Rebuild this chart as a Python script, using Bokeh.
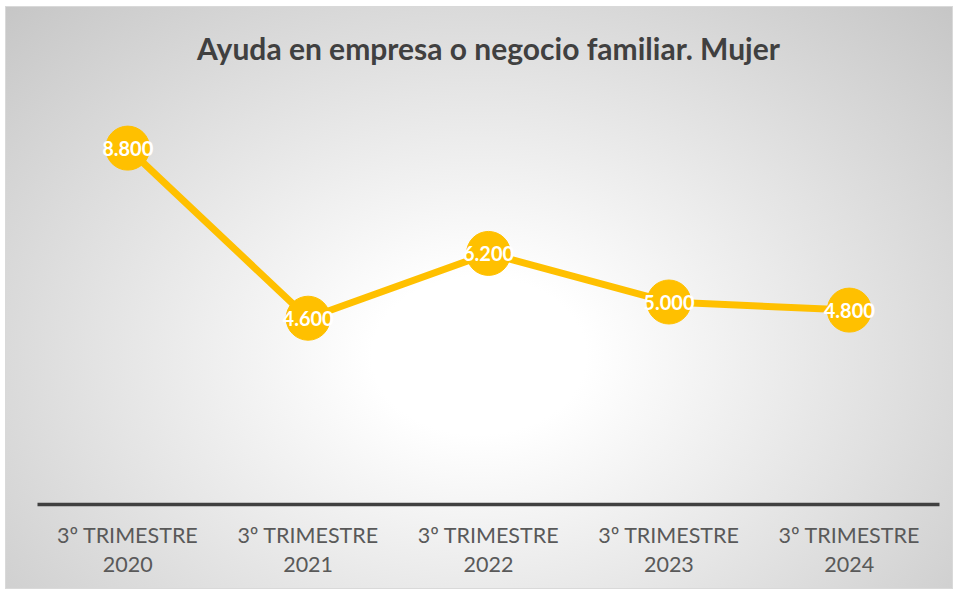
from bokeh.plotting import figure
from bokeh.models import FactorRange, Range1d, ColumnDataSource
from bokeh.core.properties import value
from bokeh.embed import file_html
from bokeh.resources import INLINE

# ---- data ----
periods = ["3º TRIMESTRE\n2020", "3º TRIMESTRE\n2021", "3º TRIMESTRE\n2022",
           "3º TRIMESTRE\n2023", "3º TRIMESTRE\n2024"]
values = [8800, 4600, 6200, 5000, 4800]
labels = [f"{v:,}".replace(",", ".") for v in values]
title_text = "Ayuda en empresa o negocio familiar. Mujer"

GOLD = "#FFC000"

src = ColumnDataSource(dict(x=periods, y=values, lab=labels))

p = figure(
    width=948, height=583,
    x_range=FactorRange(factors=periods, range_padding=0),
    y_range=Range1d(0, 10593),
    output_backend="svg", toolbar_location=None,
    min_border_left=31, min_border_right=15,
    min_border_top=68, min_border_bottom=86,
)
p.styles = {
    "background": "radial-gradient(ellipse farthest-corner at 50% 60%, #ffffff 0%, #ffffff 16%, #c6c6c6 100%)",
    "border": "1px solid #d9d9d9",
    "margin-left": "5px",
    "margin-top": "6px",
}
p.background_fill_color = None
p.border_fill_color = None
p.outline_line_color = None

p.title.text = title_text
p.title.align = "center"
p.title.text_font = "Lato"
p.title.text_font_size = "30px"
p.title.text_font_style = "bold"
p.title.text_color = "#404040"
p.title.standoff = 20

p.yaxis.visible = False
p.xgrid.visible = False
p.ygrid.visible = False

ax = p.xaxis[0]
ax.axis_line_color = "#404040"
ax.axis_line_width = 3.5
ax.major_tick_line_color = None
ax.minor_tick_line_color = None
ax.major_label_text_font = "Lato"
ax.major_label_text_font_size = "21.5px"
ax.major_label_text_color = "#595959"
ax.major_label_text_line_height = 1.12
ax.major_label_standoff = 11
ax.major_label_orientation = "horizontal"

p.line("x", "y", source=src, line_color=GOLD, line_width=7)
p.scatter("x", "y", source=src, size=44, fill_color=GOLD, line_color=GOLD)
p.text("x", "y", text="lab", source=src, text_color="white",
       text_font=value("Lato"), text_font_size="20px", text_font_style="bold",
       text_align="center", text_baseline="middle")

open("out.html", "w").write(file_html(p, INLINE))
